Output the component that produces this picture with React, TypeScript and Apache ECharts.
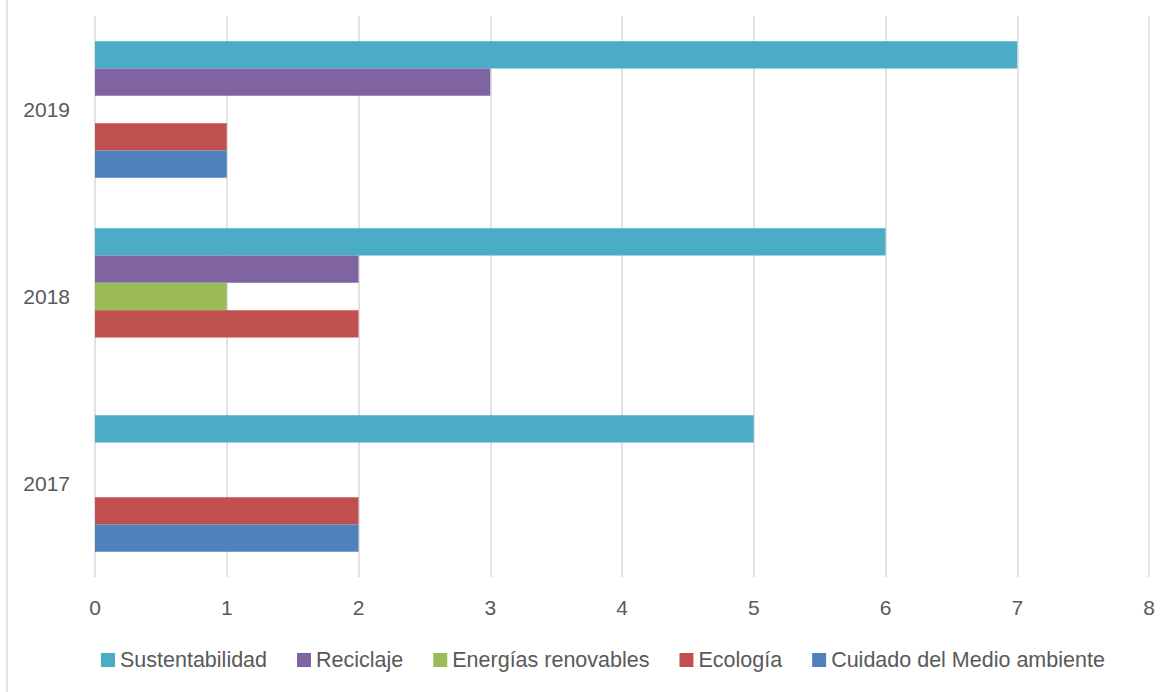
import React, { useEffect, useRef } from "react";
import * as echarts from "echarts";

const categories = ["2017", "2018", "2019"];
const seriesNames = [
  "Sustentabilidad",
  "Reciclaje",
  "Energías renovables",
  "Ecología",
  "Cuidado del Medio ambiente",
];
const sustentabilidad = [5, 6, 7];
const reciclaje = [0, 2, 3];
const energias = [0, 1, 0];
const ecologia = [2, 2, 1];
const cuidado = [2, 0, 1];
const xTicks = [0, 1, 2, 3, 4, 5, 6, 7, 8];
const colors = ["#4BACC6", "#8064A2", "#9BBB59", "#C0504D", "#4F81BD"];

export default function App() {
  const ref = useRef<HTMLDivElement>(null);
  useEffect(() => {
    document.body.style.margin = "0";
    const chart = echarts.init(ref.current!, null, { renderer: "svg" });
    const values = [sustentabilidad, reciclaje, energias, ecologia, cuidado];
    const font = "'Liberation Sans', Arial, sans-serif";
    chart.setOption({
      animation: false,
      backgroundColor: "#ffffff",
      textStyle: { fontFamily: font },
      grid: { left: 95, right: 21, top: 16, bottom: 115, containLabel: false },
      legend: {
        data: seriesNames,
        bottom: 16,
        left: 96,
        itemWidth: 14,
        itemHeight: 14,
        itemGap: 30,
        icon: "rect",
        textStyle: { color: "#595959", fontSize: 21.5, fontFamily: font },
      },
      xAxis: {
        type: "value",
        min: xTicks[0],
        max: xTicks[xTicks.length - 1],
        interval: 1,
        axisLine: { show: false },
        axisTick: { show: false },
        axisLabel: { color: "#595959", fontSize: 21, margin: 20, fontFamily: font },
        splitLine: { show: true, lineStyle: { color: "#d9d9d9", width: 1.5 } },
      },
      yAxis: {
        type: "category",
        data: categories,
        axisLine: { show: false },
        axisTick: { show: false },
        axisLabel: { color: "#595959", fontSize: 21, margin: 25, fontFamily: font },
        splitLine: { show: false },
      },
      graphic: [
        {
          type: "line",
          shape: { x1: 7, y1: 0, x2: 7, y2: 692 },
          style: { stroke: "#d9d9d9", lineWidth: 1.5 },
        },
      ],
      series: seriesNames.map((name, i) => ({
        name,
        type: "bar",
        data: values[i],
        itemStyle: { color: colors[i] },
        barGap: "0%",
        barCategoryGap: "27%",
      })),
    });
    return () => chart.dispose();
  }, []);
  return <div ref={ref} style={{ width: 1170, height: 692 }} />;
}
